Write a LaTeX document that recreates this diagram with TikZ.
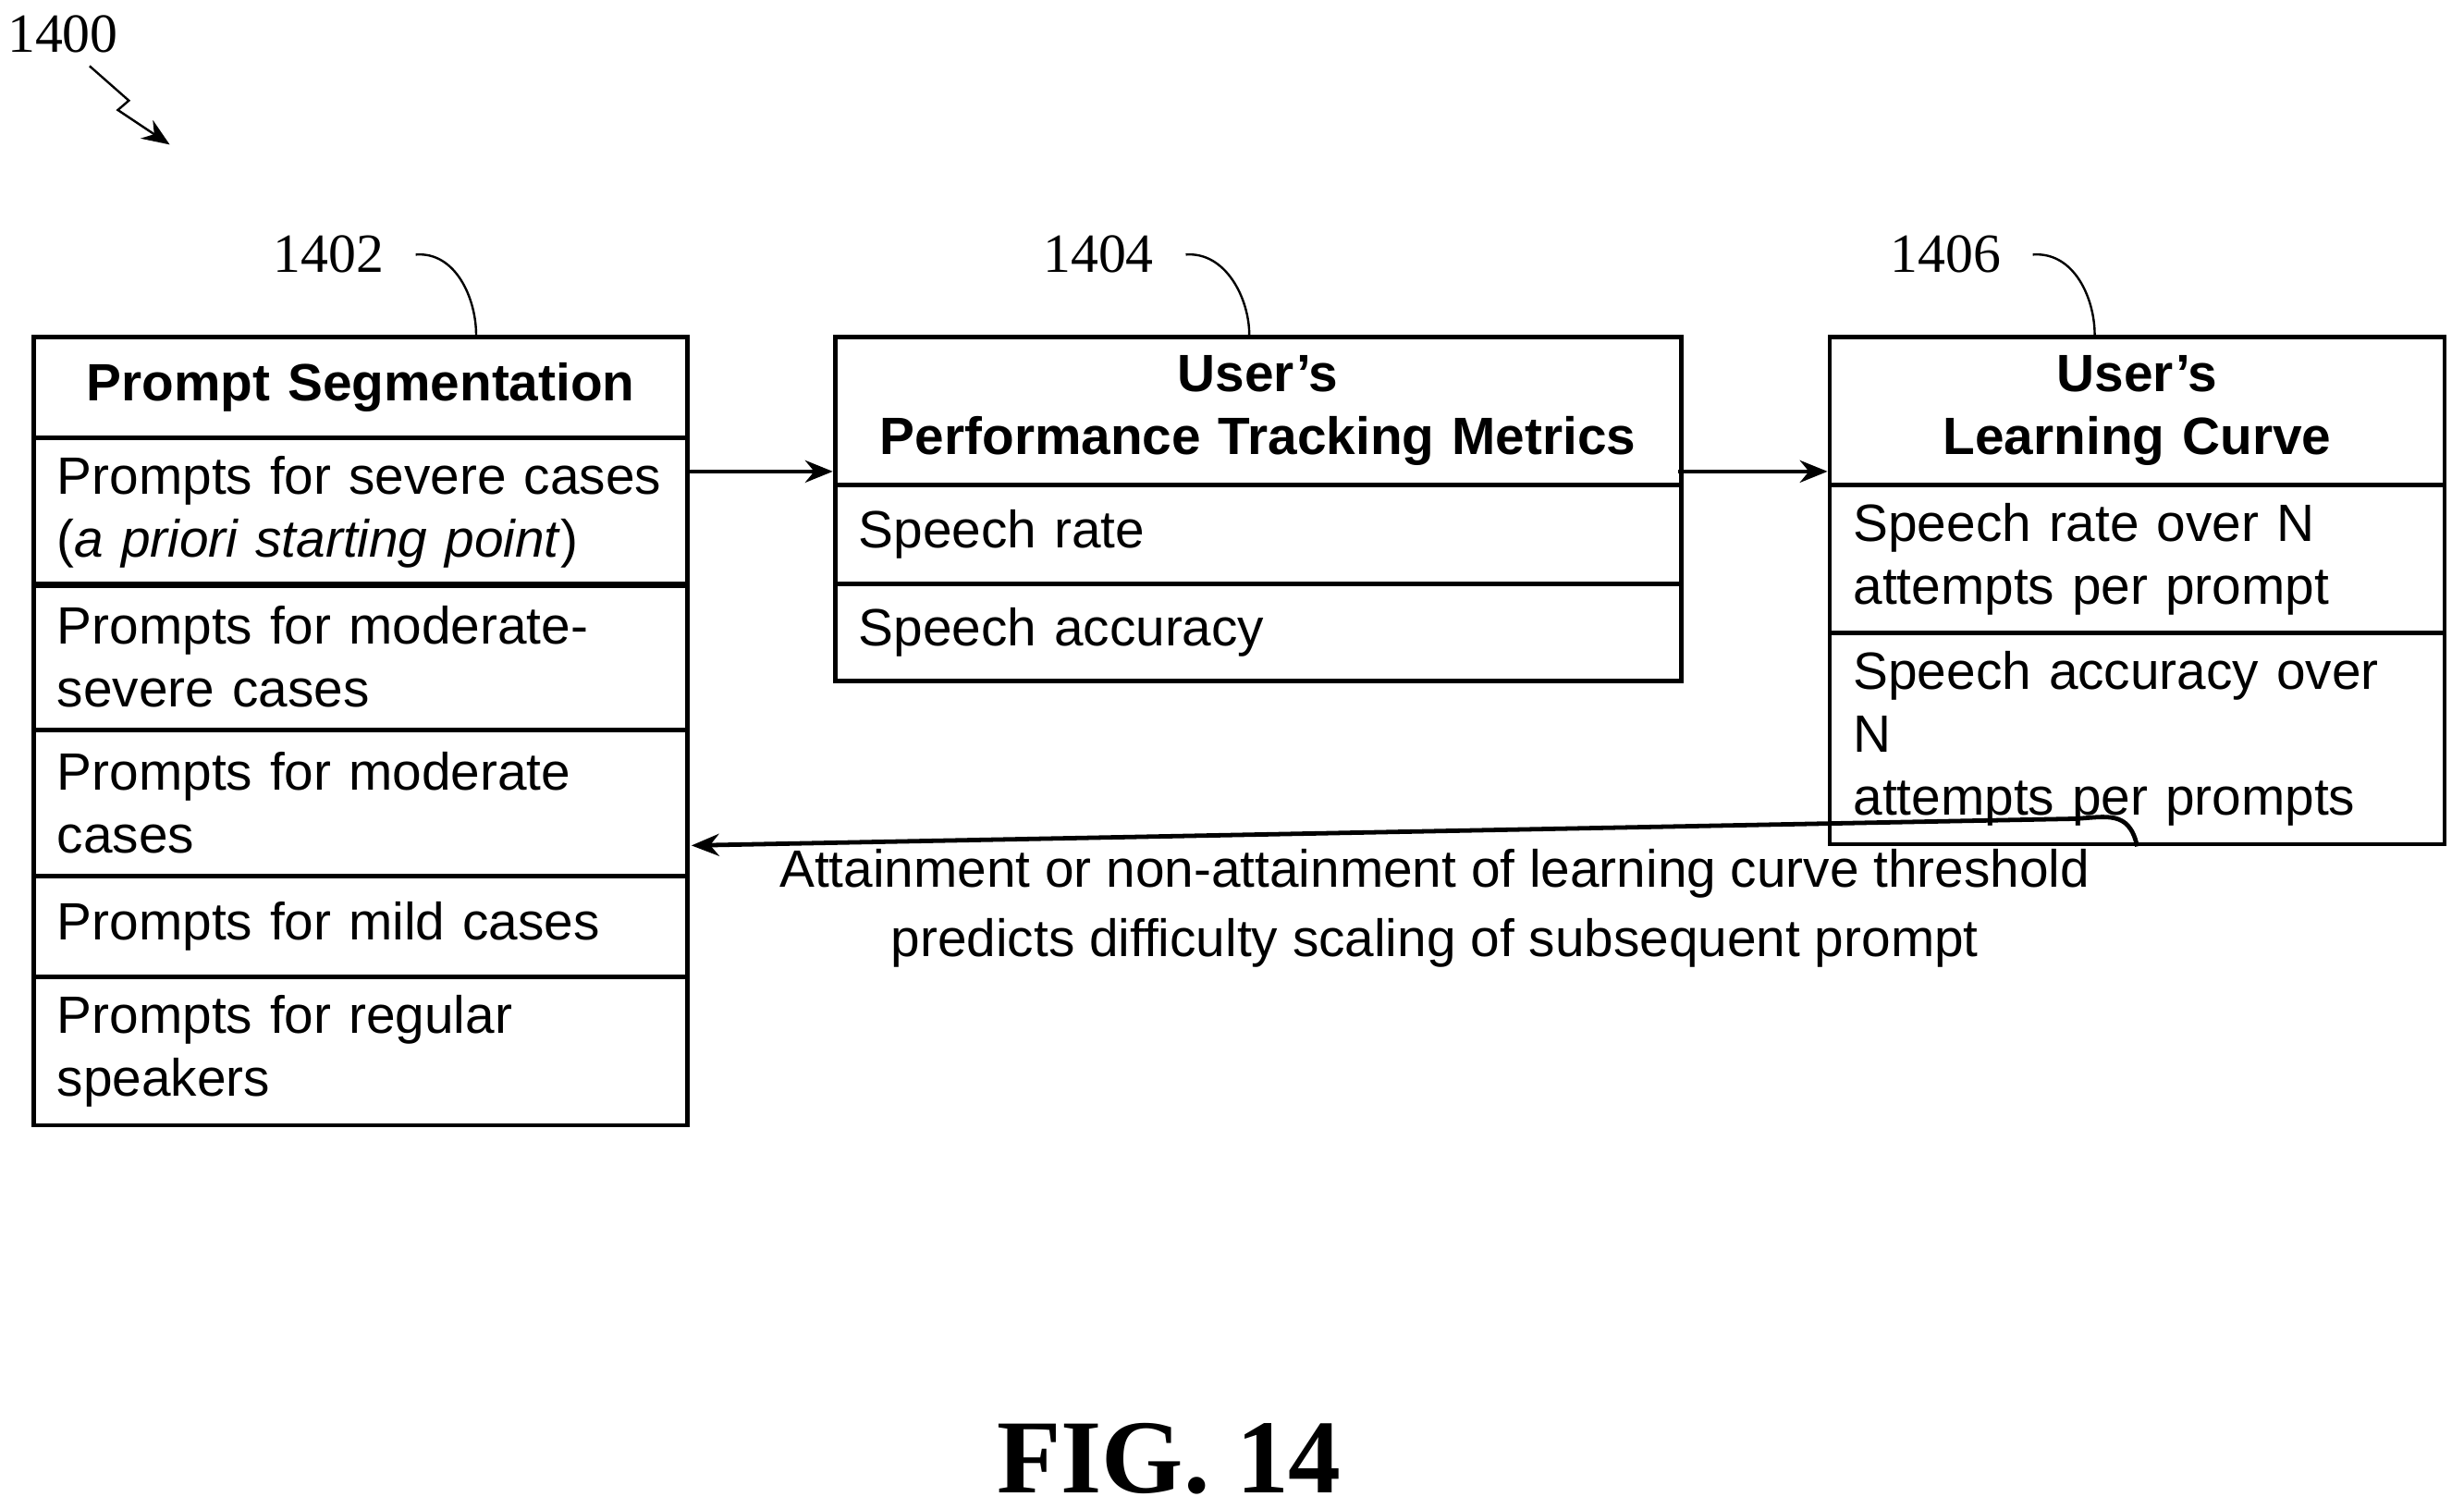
\documentclass[tikz,border=0pt]{standalone}
\usepackage{fontspec}
\setmainfont{Liberation Serif}
\setsansfont{Liberation Sans}
\usetikzlibrary{positioning,arrows.meta}

\tikzset{
  cell/.style 2 args={draw, thick, anchor=north west, minimum width=#1, minimum height=#2,
    text width=#1-0.3cm, inner xsep=0.15cm, align=left, font=\sffamily\fontsize{9.5}{11.4}\selectfont},
  head/.style 2 args={cell={#1}{#2}, align=center, font=\sffamily\bfseries\fontsize{9.5}{11.4}\selectfont},
  ref/.style={font=\fontsize{10}{12}\selectfont},
  link/.style={thick, -{Stealth[length=5pt,width=4pt]}}
}

\begin{document}
\begin{tikzpicture}[x=0.01cm,y=-0.01cm]
\useasboundingbox (0,0) rectangle (1568,960);

% prompt segmentation
\node[head={4.16cm}{0.64cm}] (seg) at (20,213) {Prompt Segmentation};
\node[cell={4.16cm}{0.93cm}] (severe) at (20,277) {Prompts for severe cases\\(\textit{a priori starting point})};
\node[cell={4.16cm}{0.93cm}] (modsev) at (20,370) {Prompts for moderate-\\severe cases};
\node[cell={4.16cm}{0.93cm}] (mod) at (20,463) {Prompts for moderate\\cases};
\node[cell={4.16cm}{0.64cm}] (mild) at (20,556) {Prompts for mild cases};
\node[cell={4.16cm}{0.93cm}] (regular) at (20,620) {Prompts for regular\\speakers};

% tracking metrics
\node[head={5.38cm}{0.94cm}] (metrics) at (530,213) {User's\\Performance Tracking Metrics};
\node[cell={5.38cm}{0.63cm}] (rate) at (530,307) {Speech rate};
\node[cell={5.38cm}{0.62cm}] (acc) at (530,370) {Speech accuracy};

% learning curve
\node[head={3.91cm}{0.94cm}] (curve) at (1163,213) {User's\\Learning Curve};
\node[cell={3.91cm}{0.94cm}] (rateN) at (1163,307) {Speech rate over N\\attempts per prompt};
\node[cell={3.91cm}{0.93cm}] (accN) at (1163,401) {Speech accuracy over N\\attempts per prompts};

\draw[link] (436,300) -- (530,300);
\draw[link] (1068,300) -- (1163,300);
\coordinate (fb) at (440,538);
\draw[link] (accN.south) .. controls (1355,515) and (1340,520) .. (1320,521) -- (fb);
\node[font=\sffamily\fontsize{9.5}{12.5}\selectfont, align=center] (fbtext) at (913,578)
  {Attainment or non-attainment of learning curve threshold\\predicts difficulty scaling of subsequent prompt};

% reference numerals
\node[ref] (n1402) at (209,162) {1402};
\node[ref] (n1404) at (699,162) {1404};
\node[ref] (n1406) at (1238,162) {1406};
\draw (n1402.east) ++(8,0) .. controls (290,160) and (303,190) .. (seg.north -| 303,0);
\draw (n1404.east) ++(8,0) .. controls (780,160) and (795,190) .. (795,213);
\draw (n1406.east) ++(8,0) .. controls (1320,160) and (1333,190) .. (1333,213);
\node[ref] (n1400) at (40,22) {1400};
\coordinate (z) at (108,92);
\draw[-{Stealth[length=5pt,width=4pt]}] (57,42) -- (82,64) -- (75,70) -- (z);

\node[font=\bfseries\fontsize{19}{22}\selectfont] (fig) at (744,928) {FIG. 14};
\end{tikzpicture}
\end{document}
